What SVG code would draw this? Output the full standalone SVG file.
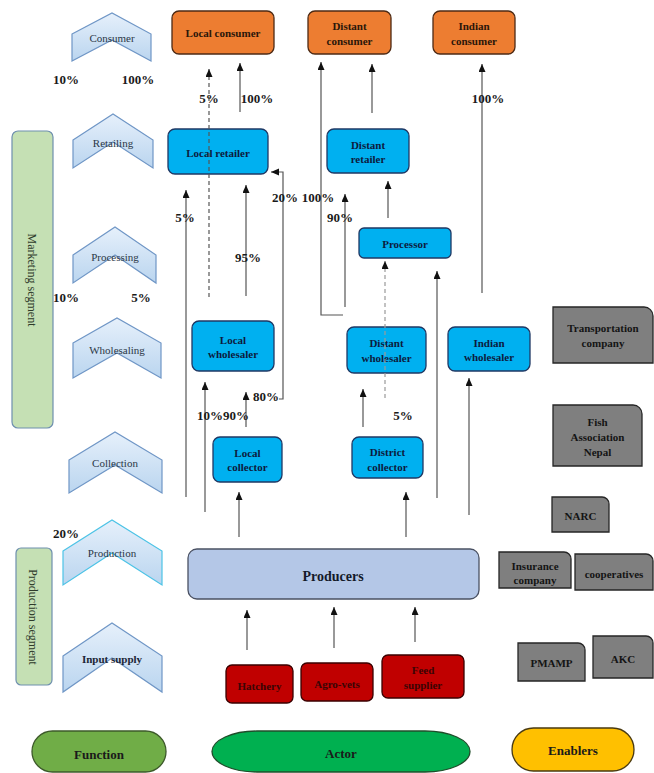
<svg xmlns="http://www.w3.org/2000/svg" width="654" height="773" viewBox="0 0 654 773">
<defs>
<linearGradient id="chev" x1="0" y1="0" x2="0" y2="1">
<stop offset="0" stop-color="#e6f0fb"/>
<stop offset="1" stop-color="#bad5ef"/>
</linearGradient>
<marker id="ah" markerUnits="userSpaceOnUse" markerWidth="8" markerHeight="8" refX="8" refY="3.5" orient="auto">
<path d="M0,0 L8,3.5 L0,7 z" fill="#111"/>
</marker>
</defs>
<style>
text{font-family:"Liberation Serif","Times New Roman",serif;text-anchor:middle}
.chev{fill:url(#chev);stroke:#6f96c6;stroke-width:1.2}
.chl{font-size:11px;fill:#2b3746}
.seg{fill:#c5e0b4;stroke:#6e8fae;stroke-width:1.2}
.segt{font-size:12px;fill:#2e3a2a}
.blue{fill:#00b0f0;stroke:#1f3864;stroke-width:1.3}
.org{fill:#ed7d31;stroke:#4d2a14;stroke-width:1.3}
.red{fill:#c00000;stroke:#3a0000;stroke-width:1.3}
.gray{fill:#7f7f7f;stroke:#262626;stroke-width:1.3}
.bt{font-size:11px;font-weight:bold;fill:#0d1b3e}
.ot{font-size:11px;font-weight:bold;fill:#2a160a}
.rt{font-size:11px;font-weight:bold;fill:#3a0505}
.gt{font-size:11px;font-weight:bold;fill:#141414}
.pct{font-size:13px;font-weight:bold;fill:#1a1a1a}
.lg{font-size:13px;font-weight:bold;fill:#1a1a1a}
.cn{fill:none;stroke:#555;stroke-width:1.2;marker-end:url(#ah)}
.dash{stroke-dasharray:4 3}
</style>

<g id="functions">
<g id="f-consumer"><polygon class="chev" points="72,34 112,13 151,34 151,61 112,40 72,61"/><text class="chl" x="112" y="42">Consumer</text></g>
<g id="f-retailing"><polygon class="chev" points="73,140 113,114 153,140 153,168 113,142 73,168"/><text class="chl" x="113" y="147">Retailing</text></g>
<g id="f-processing"><polygon class="chev" points="73,255 115,227 156,255 156,283 115,255 73,283"/><text class="chl" x="115" y="261">Processing</text></g>
<g id="f-wholesaling"><polygon class="chev" points="73,343 117,318 161,343 161,378 117,353 73,378"/><text class="chl" x="117" y="354">Wholesaling</text></g>
<g id="f-collection"><polygon class="chev" points="69,460 115,432 162,460 162,493 115,465 69,493"/><text class="chl" x="115" y="467">Collection</text></g>
<g id="f-production"><polygon class="chev" points="63,551 112,520 162,551 162,585 112,553 63,585" style="stroke:#4cc3e6"/><text class="chl" x="112" y="557">Production</text></g>
<g id="f-input"><polygon class="chev" points="63,656 112,623 162,656 162,692 112,658 63,692"/><text class="chl" x="112" y="663" font-weight="bold" style="fill:#1c2636">Input supply</text></g>
</g>

<g id="segments">
<g id="marketing-segment"><rect class="seg" x="12" y="131" width="41" height="297" rx="6"/><text class="segt" transform="translate(32,280) rotate(90)" y="4">Marketing segment</text></g>
<g id="production-segment"><rect class="seg" x="16" y="548" width="36" height="137" rx="5"/><text class="segt" transform="translate(33,617) rotate(90)" y="4">Production segment</text></g>
</g>

<g id="actors">
<g id="local-consumer"><rect class="org" x="172" y="11" width="102" height="43" rx="7"/><text class="ot" x="223" y="37">Local consumer</text></g>
<g id="distant-consumer"><rect class="org" x="308" y="11" width="83" height="43" rx="7"/><text class="ot" x="349.5" y="30">Distant</text><text class="ot" x="349.5" y="45">consumer</text></g>
<g id="indian-consumer"><rect class="org" x="433" y="11" width="82" height="43" rx="7"/><text class="ot" x="474" y="30">Indian</text><text class="ot" x="474" y="45">consumer</text></g>
<g id="local-retailer"><rect class="blue" x="168" y="129" width="100" height="45" rx="7"/><text class="bt" x="218" y="157">Local retailer</text></g>
<g id="distant-retailer"><rect class="blue" x="327" y="129" width="82" height="44" rx="7"/><text class="bt" x="368" y="149">Distant</text><text class="bt" x="368" y="163">retailer</text></g>
<g id="processor"><rect class="blue" x="359" y="228" width="92" height="30" rx="5"/><text class="bt" x="405" y="248">Processor</text></g>
<g id="local-wholesaler"><rect class="blue" x="192" y="321" width="82" height="50" rx="7"/><text class="bt" x="233" y="344">Local</text><text class="bt" x="233" y="358">wholesaler</text></g>
<g id="distant-wholesaler"><rect class="blue" x="347" y="327" width="79" height="46" rx="7"/><text class="bt" x="386.5" y="347">Distant</text><text class="bt" x="386.5" y="362">wholesaler</text></g>
<g id="indian-wholesaler"><rect class="blue" x="448" y="327" width="82" height="44" rx="7"/><text class="bt" x="489" y="347">Indian</text><text class="bt" x="489" y="361">wholesaler</text></g>
<g id="local-collector"><rect class="blue" x="213" y="437" width="69" height="45" rx="7"/><text class="bt" x="247.5" y="457">Local</text><text class="bt" x="247.5" y="471">collector</text></g>
<g id="district-collector"><rect class="blue" x="352" y="437" width="71" height="41" rx="7"/><text class="bt" x="387.5" y="456">District</text><text class="bt" x="387.5" y="471">collector</text></g>
<g id="producers"><rect x="188" y="549" width="291" height="50" rx="9" fill="#b4c7e7" stroke="#4a5163" stroke-width="1.3"/><text x="333" y="581" font-size="14" font-weight="bold" fill="#141a2a">Producers</text></g>
<g id="hatchery"><rect class="red" x="226" y="665" width="67" height="38" rx="6"/><text class="rt" x="259.5" y="690">Hatchery</text></g>
<g id="agro-vets"><rect class="red" x="301" y="663" width="72" height="38" rx="6"/><text class="rt" x="337" y="688">Agro-vets</text></g>
<g id="feed-supplier"><rect class="red" x="382" y="655" width="82" height="43" rx="6"/><text class="rt" x="423" y="674">Feed</text><text class="rt" x="423" y="689">supplier</text></g>
</g>

<g id="connectors">
<path class="cn" d="M240,112 V63"/>
<path class="cn dash" d="M209,297 V69"/>
<path class="cn" d="M186,497 V190"/>
<path class="cn" d="M246,296 V185"/>
<path class="cn" d="M246,427 V392"/>
<path class="cn" d="M279,399 H283 V172 H271"/>
<path class="cn" d="M205,512 V382"/>
<path class="cn" d="M239,537 V492"/>
<path class="cn" d="M406,537 V492"/>
<path class="cn" d="M363,427 V389"/>
<path class="cn dash" d="M385,398 V261" style="stroke:#9a9a9a"/>
<path class="cn" d="M437,498 V271"/>
<path class="cn" d="M469,515 V378"/>
<path class="cn" d="M343,315 H321 V62"/>
<path class="cn" d="M345,307 V194"/>
<path class="cn" d="M388,218 V181"/>
<path class="cn" d="M372,113 V64"/>
<path class="cn" d="M482,293 V64"/>
<path class="cn" d="M247,650 V610"/>
<path class="cn" d="M334,648 V607"/>
<path class="cn" d="M415,642 V607"/>
</g>

<g id="labels">
<text class="pct" x="66" y="83.5">10%</text>
<text class="pct" x="138" y="83.5">100%</text>
<text class="pct" x="209" y="102.5">5%</text>
<text class="pct" x="257" y="102.5">100%</text>
<text class="pct" x="488" y="102.5">100%</text>
<text class="pct" x="185" y="221.5">5%</text>
<text class="pct" x="285" y="201.5">20%</text>
<text class="pct" x="318" y="201.5">100%</text>
<text class="pct" x="340" y="221.5">90%</text>
<text class="pct" x="248" y="261.5">95%</text>
<text class="pct" x="66" y="301.5">10%</text>
<text class="pct" x="141" y="301.5">5%</text>
<text class="pct" x="266" y="400.5">80%</text>
<text class="pct" x="223" y="419.5">10%90%</text>
<text class="pct" x="403" y="419.5">5%</text>
<text class="pct" x="66" y="537.5">20%</text>
</g>

<g id="enablers">
<g id="transportation"><path class="gray" d="M553,307 H644 A9,9 0 0 1 653,316 V363 H553 Z"/><text class="gt" x="603" y="332">Transportation</text><text class="gt" x="603" y="347">company</text></g>
<g id="fish-association"><path class="gray" d="M553,405 H633 A9,9 0 0 1 642,414 V466 H553 Z"/><text class="gt" x="597.5" y="426">Fish</text><text class="gt" x="597.5" y="441">Association</text><text class="gt" x="597.5" y="456">Nepal</text></g>
<g id="narc"><path class="gray" d="M552,497 H602 A7,7 0 0 1 609,504 V532 H552 Z"/><text class="gt" x="580.5" y="520">NARC</text></g>
<g id="insurance"><path class="gray" d="M499,552 H564 A7,7 0 0 1 571,559 V588 H499 Z"/><text class="gt" x="535" y="570">Insurance</text><text class="gt" x="535" y="584">company</text></g>
<g id="cooperatives"><path class="gray" d="M575,554 H646 A7,7 0 0 1 653,561 V590 H575 Z"/><text class="gt" x="614" y="578">cooperatives</text></g>
<g id="pmamp"><path class="gray" d="M518,643 H578 A7,7 0 0 1 585,650 V681 H518 Z"/><text class="gt" x="551.5" y="667">PMAMP</text></g>
<g id="akc"><path class="gray" d="M593,636 H646 A7,7 0 0 1 653,643 V678 H593 Z"/><text class="gt" x="623" y="663">AKC</text></g>
</g>

<g id="legend">
<g id="legend-function"><rect x="32" y="731" width="134" height="41" rx="20.5" fill="#70ad47" stroke="#3d5a2a" stroke-width="1.3"/><text class="lg" x="99" y="759">Function</text></g>
<g id="legend-actor"><rect x="212" y="731" width="258" height="41" rx="45" ry="20.5" fill="#00b050" stroke="#1f4d2a" stroke-width="1.3"/><text class="lg" x="341" y="758">Actor</text></g>
<g id="legend-enablers"><rect x="512" y="728" width="122" height="43" rx="21.5" fill="#ffc000" stroke="#4a3a10" stroke-width="1.3"/><text class="lg" x="573" y="755">Enablers</text></g>
</g>
</svg>
